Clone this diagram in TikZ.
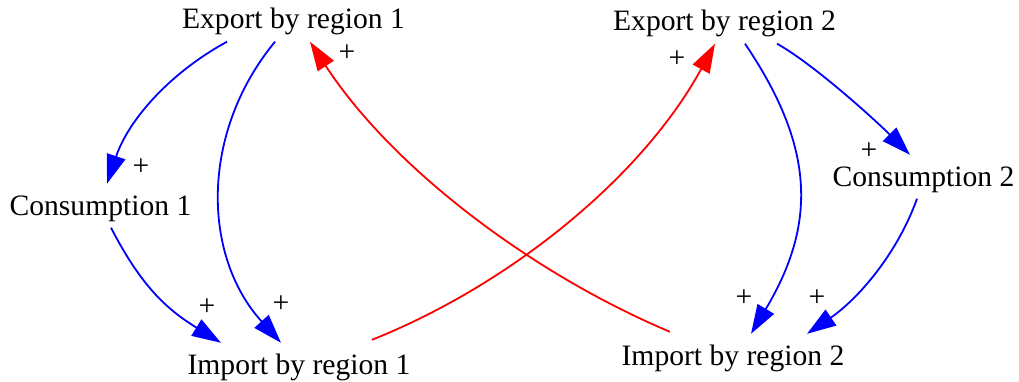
\documentclass[tikz,border=0pt]{standalone}
\usepackage{fontspec}
\setmainfont{Liberation Serif}
\usetikzlibrary{arrows.meta}

\begin{document}
\begin{tikzpicture}[x=1pt, y=-1pt, font=\fontsize{29.6}{34}\selectfont,
  var/.style={anchor=base, inner sep=0pt, text height=31pt, text depth=12.5pt},
  polarity/.style={inner sep=0pt},
  blueedge/.style={blue, line width=1.8pt, -{Triangle[length=29pt, width=19pt]}},
  rededge/.style={red, line width=1.8pt, -{Triangle[length=29pt, width=19pt]}}]
  \useasboundingbox (0,0) rectangle (1019,382);
  % variables
  \node[var] (exp1) at (293.5,29) {Export by region 1};
  \node[var] (exp2) at (724.5,31) {Export by region 2};
  \node[var] (con1) at (100.5,215) {Consumption 1};
  \node[var] (con2) at (923.5,186) {Consumption 2};
  \node[var] (imp1) at (299,374) {Import by region 1};
  \node[var] (imp2) at (733,365) {Import by region 2};
  % region 1 links
  \draw[blueedge] ([xshift=-66.5pt]exp1.south) .. controls +(-62,34) and +(20,-60) .. ([xshift=6.5pt]con1.north);
  \draw[blueedge] ([xshift=-18.5pt]exp1.south) .. controls +(-75,91) and +(-79,-87) .. ([xshift=-18pt]imp1.north);
  \draw[blueedge] ([xshift=10.5pt]con1.south) .. controls +(30,58) and +(-55,-34) .. ([xshift=-78pt]imp1.north);
  % trade between regions
  \draw[rededge] ([xshift=73pt,yshift=3pt]imp1.north) .. controls +(140,-56) and +(-72,132) .. ([xshift=-9.5pt]exp2.south);
  \draw[rededge] ([xshift=-63pt,yshift=2pt]imp2.north) .. controls +(-138,-58) and +(82,126) .. ([xshift=16.5pt]exp1.south);
  % region 2 links
  \draw[blueedge] ([xshift=20.5pt]exp2.south) .. controls +(71,105) and +(65,-109) .. ([xshift=18pt]imp2.north);
  \draw[blueedge] ([xshift=52.5pt]exp2.south) .. controls +(39,22) and +(-32,-32) .. ([xshift=-13.5pt]con2.north);
  \draw[blueedge] ([xshift=-6.5pt]con2.south) .. controls +(-20,56) and +(50,-34) .. ([xshift=74pt]imp2.north);
  % polarities
  \node[polarity] (sc1) at (141,167) {+};
  \node[polarity] (si1a) at (207,307) {+};
  \node[polarity] (si1b) at (281,304) {+};
  \node[polarity] (se1) at (347,53) {+};
  \node[polarity] (se2) at (677,59) {+};
  \node[polarity] (sc2) at (869,151) {+};
  \node[polarity] (si2a) at (744,298) {+};
  \node[polarity] (si2b) at (817,298) {+};
\end{tikzpicture}
\end{document}
